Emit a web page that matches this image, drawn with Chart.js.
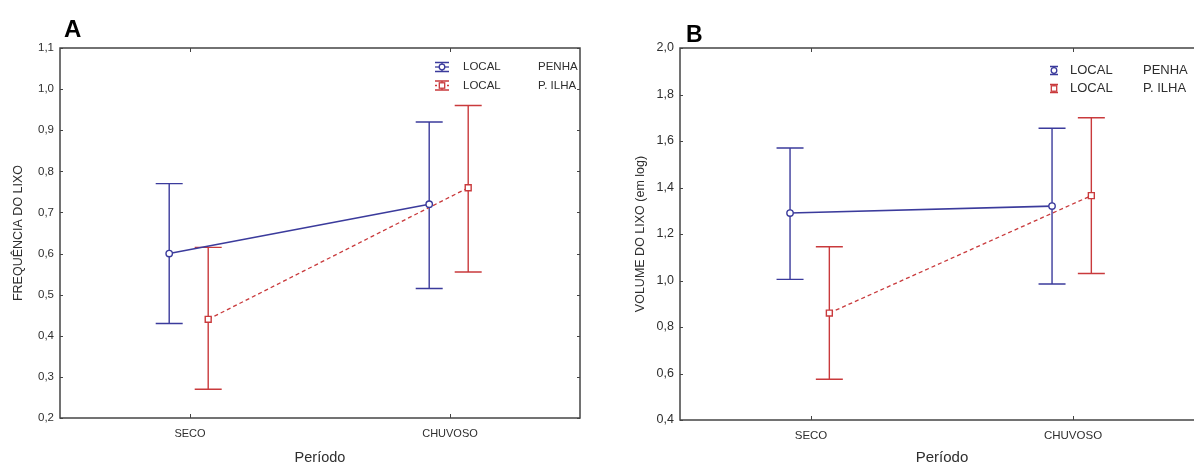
<!DOCTYPE html>
<html><head><meta charset="utf-8">
<script src="https://cdn.jsdelivr.net/npm/chart.js@4.4.1/dist/chart.umd.min.js"></script>
<style>
html,body{margin:0;padding:0;background:#fff;overflow:hidden;width:1194px;height:465px;}
#wa{position:absolute;left:0;top:0;width:597px;height:465px;}
#wb{position:absolute;left:600px;top:0;width:610px;height:465px;}
.pl{position:absolute;font-family:"Liberation Sans",Arial,sans-serif;font-weight:bold;color:#000;line-height:1;}
</style></head><body>
<div id="wa"><canvas id="ca"></canvas></div>
<div id="wb"><canvas id="cb"></canvas></div>
<div class="pl" style="left:64px;top:17px;font-size:24px">A</div>
<div class="pl" style="left:686px;top:23px;font-size:23px">B</div>
<script>
// ---- data ----
const periods = ['SECO', 'CHUVOSO'];
const legendLabels = ['PENHA', 'P. ILHA'];
// Panel A : FREQUÊNCIA DO LIXO
const freqPenhaMean = [0.60, 0.72];
const freqPenhaLow  = [0.43, 0.515];
const freqPenhaHigh = [0.77, 0.92];
const freqIlhaMean  = [0.44, 0.76];
const freqIlhaLow   = [0.27, 0.555];
const freqIlhaHigh  = [0.615, 0.96];
const freqTicks = [0.2, 0.3, 0.4, 0.5, 0.6, 0.7, 0.8, 0.9, 1.0, 1.1];
// Panel B : VOLUME DO LIXO (em log)
const volPenhaMean = [1.29, 1.32];
const volPenhaLow  = [1.005, 0.985];
const volPenhaHigh = [1.57, 1.655];
const volIlhaMean  = [0.86, 1.365];
const volIlhaLow   = [0.575, 1.03];
const volIlhaHigh  = [1.145, 1.70];
const volTicks = [0.4, 0.6, 0.8, 1.0, 1.2, 1.4, 1.6, 1.8, 2.0];

const BLUE = '#3b3b9c', RED = '#c93a3c', TXT = '#2e2e2e', AX = '#444';
const FONT = '"Liberation Sans", Arial, sans-serif';
const OFF_P = -0.08, OFF_I = 0.07;

const errPlugin = {
  id: 'errbars',
  beforeDatasetsDraw(chart, args, o) {
    const {ctx, chartArea: ca, scales: {x, y}} = chart;
    ctx.save();
    ctx.strokeStyle = AX; ctx.lineWidth = 1.5;
    ctx.strokeRect(ca.left, ca.top, ca.right - ca.left, ca.bottom - ca.top);
    ctx.lineWidth = 1;
    y.ticks.forEach(t => {
      const py = Math.round(y.getPixelForValue(t.value)) + 0.5;
      ctx.beginPath(); ctx.moveTo(ca.left, py); ctx.lineTo(ca.left + 3, py);
      ctx.moveTo(ca.right, py); ctx.lineTo(ca.right - 3, py); ctx.stroke();
    });
    x.ticks.forEach(t => {
      const px = Math.round(x.getPixelForValue(t.value)) + 0.5;
      ctx.beginPath(); ctx.moveTo(px, ca.top); ctx.lineTo(px, ca.top + 4);
      ctx.moveTo(px, ca.bottom); ctx.lineTo(px, ca.bottom - 4); ctx.stroke();
    });
    ctx.lineWidth = 1.4;
    o.sets.forEach(s => {
      ctx.strokeStyle = s.color;
      s.low.forEach((lo, i) => {
        const px = x.getPixelForValue(i + s.off);
        const y1 = y.getPixelForValue(lo), y2 = y.getPixelForValue(s.high[i]);
        ctx.beginPath();
        ctx.moveTo(px, y1); ctx.lineTo(px, y2);
        ctx.moveTo(px - o.cap, y1); ctx.lineTo(px + o.cap, y1);
        ctx.moveTo(px - o.cap, y2); ctx.lineTo(px + o.cap, y2);
        ctx.stroke();
      });
    });
    ctx.restore();
  },
  afterDraw(chart, args, o) {
    const {ctx} = chart;
    const L = o.legend;
    ctx.save();
    ctx.font = L.size + 'px ' + FONT;
    ctx.textBaseline = 'middle'; ctx.textAlign = 'left';
    L.rows.forEach((r, k) => {
      const cy = r.y, cx = L.iconX;
      ctx.strokeStyle = r.color; ctx.lineWidth = 1.3;
      ctx.setLineDash([]);
      ctx.beginPath();
      ctx.moveTo(cx - L.iw, cy - L.ih); ctx.lineTo(cx + L.iw, cy - L.ih);
      ctx.moveTo(cx - L.iw, cy + L.ih); ctx.lineTo(cx + L.iw, cy + L.ih);
      ctx.moveTo(cx, cy - L.ih); ctx.lineTo(cx, cy + L.ih);
      ctx.stroke();
      if (L.hline) {
        ctx.setLineDash(r.dash);
        ctx.beginPath(); ctx.moveTo(cx - L.iw, cy); ctx.lineTo(cx + L.iw, cy); ctx.stroke();
        ctx.setLineDash([]);
      }
      ctx.fillStyle = '#fff';
      if (r.rect) { ctx.fillRect(cx - 2.7, cy - 2.7, 5.4, 5.4); ctx.strokeRect(cx - 2.7, cy - 2.7, 5.4, 5.4); }
      else { ctx.beginPath(); ctx.arc(cx, cy, 2.8, 0, Math.PI * 2); ctx.fill(); ctx.stroke(); }
      ctx.fillStyle = TXT;
      ctx.fillText('LOCAL', L.t1, cy);
      ctx.fillText(legendLabels[k], L.t2, cy);
    });
    ctx.restore();
  }
};

function pts(mean, off) { return mean.map((v, i) => ({x: i + off, y: v})); }

function makeChart(id, cfg) {
  return new Chart(document.getElementById(id), {
    type: 'line',
    data: {
      datasets: [
        {label: legendLabels[0], data: pts(cfg.pm, OFF_P), borderColor: BLUE, borderWidth: 1.6,
         pointStyle: 'circle', pointRadius: 3.2, pointBackgroundColor: '#fff', pointBorderColor: BLUE, pointBorderWidth: 1.4},
        {label: legendLabels[1], data: pts(cfg.im, OFF_I), borderColor: RED, borderWidth: 1.3, borderDash: [4, 3],
         pointStyle: 'rect', pointRadius: 4.2, pointBackgroundColor: '#fff', pointBorderColor: RED, pointBorderWidth: 1.4}
      ]
    },
    options: {
      responsive: true, maintainAspectRatio: false, animation: false,
      layout: {padding: {top: 48, right: cfg.padR, left: 0, bottom: 0}},
      plugins: {
        legend: {display: false}, tooltip: {enabled: false},
        errbars: {
          cap: 13.5,
          sets: [
            {low: cfg.pl, high: cfg.ph, off: OFF_P, color: BLUE},
            {low: cfg.il, high: cfg.ih, off: OFF_I, color: RED}
          ],
          legend: cfg.legend
        }
      },
      scales: {
        x: {
          type: 'linear', min: -0.5, max: 1.5,
          afterBuildTicks: s => { s.ticks = periods.map((p, i) => ({value: i})); },
          afterFit: s => { s.height = cfg.xh; },
          grid: {display: false, drawTicks: false}, border: {display: false},
          ticks: {callback: v => periods[Math.round(v)], color: TXT, padding: cfg.xpad,
                  font: {family: FONT, size: cfg.xfs}, maxRotation: 0},
          title: {display: true, text: 'Período', color: TXT, padding: {top: 0, bottom: 0},
                  font: {family: FONT, size: cfg.tfs, lineHeight: 1}}
        },
        y: {
          type: 'linear', min: cfg.ticks[0], max: cfg.ticks[cfg.ticks.length - 1],
          afterBuildTicks: s => { s.ticks = cfg.ticks.map(v => ({value: v})); },
          afterFit: s => { s.width = cfg.yw; },
          grid: {display: false, drawTicks: false}, border: {display: false},
          ticks: {callback: v => v.toFixed(1).replace('.', ','), color: TXT, padding: cfg.ypad,
                  font: {family: FONT, size: cfg.yfs}},
          title: {display: true, text: cfg.ytitle, color: TXT, padding: {top: cfg.ytp, bottom: 0},
                  font: {family: FONT, size: cfg.ytfs}}
        }
      }
    },
    plugins: [errPlugin]
  });
}

makeChart('ca', {
  pm: freqPenhaMean, pl: freqPenhaLow, ph: freqPenhaHigh,
  im: freqIlhaMean, il: freqIlhaLow, ih: freqIlhaHigh,
  ticks: freqTicks, ytitle: 'FREQUÊNCIA DO LIXO',
  padR: 17, xh: 47, yw: 60, xpad: 9, ypad: 6, xfs: 11, yfs: 11.5, tfs: 14.5, ytfs: 12.5, ytp: 11,
  legend: {size: 11.5, iconX: 442, iw: 7, ih: 4.5, hline: true, t1: 463, t2: 538,
           rows: [{y: 67, color: BLUE, dash: [], rect: false}, {y: 85.5, color: RED, dash: [2, 2], rect: true}]}
});

makeChart('cb', {
  pm: volPenhaMean, pl: volPenhaLow, ph: volPenhaHigh,
  im: volIlhaMean, il: volIlhaLow, ih: volIlhaHigh,
  ticks: volTicks, ytitle: 'VOLUME DO LIXO (em log)',
  padR: 6, xh: 45, yw: 80, xpad: 9, ypad: 6, xfs: 11.5, yfs: 12.5, tfs: 15, ytfs: 12.5, ytp: 33,
  legend: {size: 13, iconX: 454, iw: 4, ih: 4, hline: false, t1: 470, t2: 543,
           rows: [{y: 70.5, color: BLUE, dash: [], rect: false}, {y: 88.5, color: RED, dash: [], rect: true}]}
});
</script>
</body></html>
